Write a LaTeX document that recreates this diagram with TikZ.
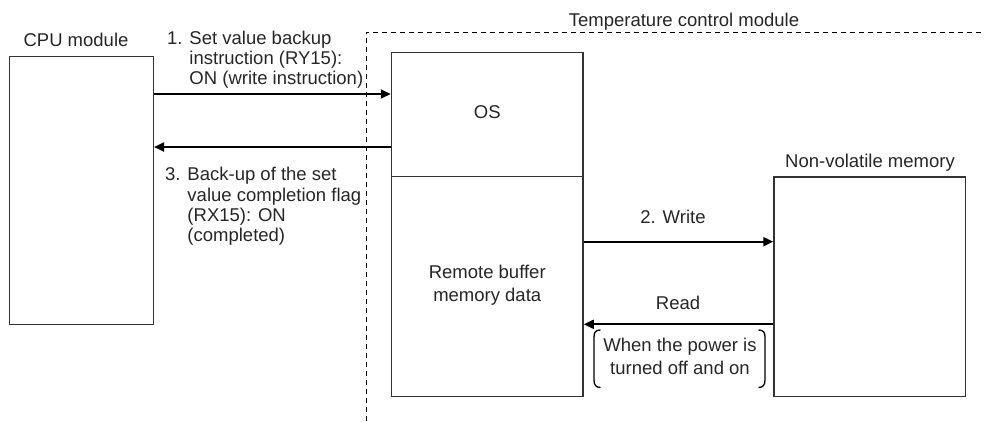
\documentclass[tikz,border=0pt]{standalone}
\usepackage{fontspec}
\setmainfont{Liberation Sans}
\usetikzlibrary{arrows.meta}
\definecolor{boxc}{HTML}{333333}
\definecolor{txtc}{HTML}{262626}
\begin{document}
\begin{tikzpicture}[x=1pt,y=-1pt,
  box/.style={draw=boxc,line width=1.5pt,inner sep=0pt,fill=white},
  arr/.style={draw=black,line width=2pt,-{Triangle[length=10pt,width=9pt]}},
  lbl/.style={text=txtc,inner sep=0pt,font=\fontsize{18.5}{20.3}\selectfont},
  lblw/.style={text=txtc,inner sep=0pt,font=\fontsize{18.5}{23.3}\selectfont},
  frame/.style={draw=black,line width=1pt,dash pattern=on 5pt off 4pt},
  brk/.style={draw=black,line width=1.3pt}]
\useasboundingbox (0,0) rectangle (985,421);

% dashed module frame
\draw[frame] (366,421) -- (366,32.3) -- (985,32.3);

% boxes
\node[box,minimum width=143.6pt,minimum height=268pt] (cpu) at (81.5,190.4) {};
\node[box,minimum width=191.5pt,minimum height=124.4pt] (os) at (487.25,114.5) {};
\node[box,minimum width=191.5pt,minimum height=219.8pt] (rbm) at (487.25,286.6) {};
\node[box,minimum width=191.5pt,minimum height=219.7pt] (nv) at (869.75,286.85) {};

% box texts
\node[lblw] (ostext) at (487.25,112.5) {OS};
\node[lblw,anchor=base] (rbmtext) at (487.25,278.5)
  {\begin{tabular}[t]{@{}c@{}}Remote buffer\\memory data\end{tabular}};

% titles
\node[lbl,anchor=base] (cpulbl) at (76,46.7) {CPU module};
\node[lbl,anchor=base] (tcmlbl) at (684,26.5) {Temperature control module};
\node[lbl,anchor=base] (nvlbl) at (870,167.5) {Non-volatile memory};

% arrows
\draw[arr] (cpu.east |- 0,94) -- (os.west |- 0,94);
\draw[arr] (os.west |- 0,147) -- (cpu.east |- 0,147);
\draw[arr] (rbm.east |- 0,241.7) -- (nv.west |- 0,241.7);
\draw[arr] (nv.west |- 0,324.3) -- (rbm.east |- 0,324.3);

% arrow labels
\node[lbl,anchor=base west] (l1) at (167,44.3)
  {\begin{tabular}[t]{@{}l@{ }l@{}}1.& Set value backup\\ & instruction (RY15):\\ & ON (write instruction)\end{tabular}};
\node[lbl,anchor=base west] (l3) at (165,180.8)
  {\begin{tabular}[t]{@{}l@{ }l@{}}3.& Back-up of the set\\ & value completion flag\\ & (RX15): ON\\ & (completed)\end{tabular}};
\node[lbl,anchor=base] (l2) at (673,223.5) {2. Write};
\node[lbl,anchor=base] (lr) at (678,309.5) {Read};
\node[lblw,anchor=base] (pw) at (680,351)
  {\begin{tabular}[t]{@{}c@{}}When the power is\\turned off and on\end{tabular}};

% brackets
\draw[brk] (600.5,330) .. controls (596,330) and (594,332) .. (594,337)
  -- (594,380) .. controls (594,385) and (596,387.5) .. (600.5,387.5);
\draw[brk] (758.5,330) .. controls (763,330) and (765,332) .. (765,337)
  -- (765,380) .. controls (765,385) and (763,387.5) .. (758.5,387.5);
\end{tikzpicture}
\end{document}
